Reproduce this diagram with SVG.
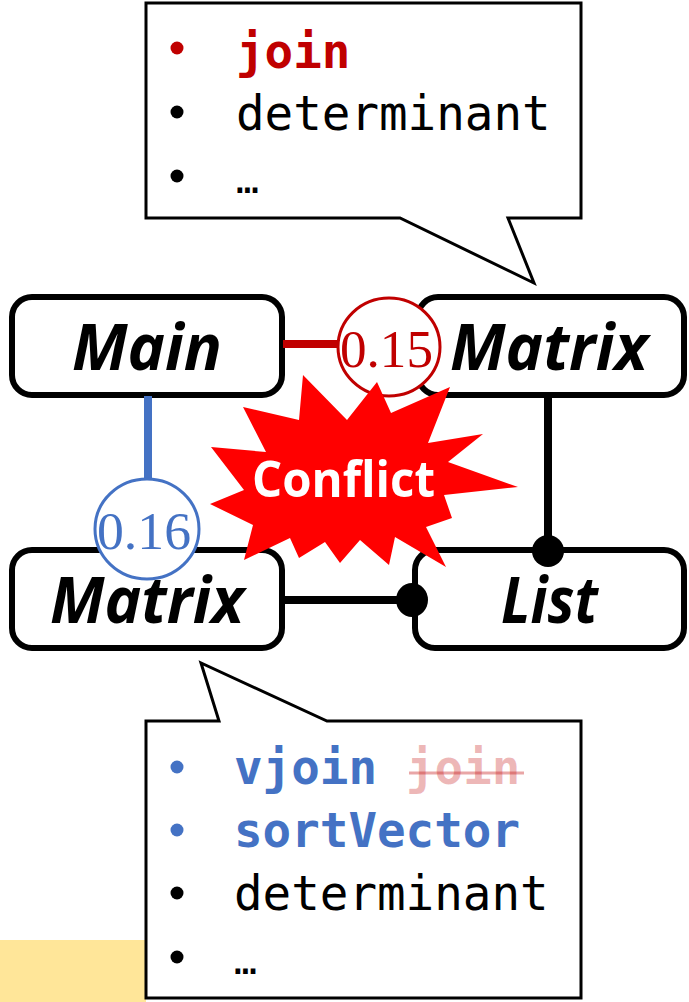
<svg xmlns="http://www.w3.org/2000/svg" width="689" height="1002" viewBox="0 0 689 1002">
  <style>
    .box { fill: #ffffff; stroke: #000000; stroke-width: 6; }
    .label { font-family: "Open Sans", "Liberation Sans", sans-serif; font-weight: 700; font-style: italic; font-size: 64px; fill: #000000; }
    .callout { fill: #ffffff; stroke: #000000; stroke-width: 3; stroke-linejoin: miter; }
    .code { font-family: "DejaVu Sans Mono", "Liberation Mono", monospace; font-size: 47.5px; fill: #000000; }
    .dots { font-size: 38px; }
    .bold { font-weight: 700; }
    .red { fill: #C00000; }
    .blue { fill: #4472C4; }
    .removed { fill: #C00000; fill-opacity: 0.28; }
    .weight { font-family: "Liberation Serif", "DejaVu Serif", serif; font-size: 52px; }
    .link { stroke-width: 8; fill: none; }
  </style>

  <!-- yellow highlight strip bottom-left -->
  <rect x="0" y="940" width="146" height="62" fill="#FFE699"/>

  <!-- callout above the upper Matrix class -->
  <g id="callout-top">
    <polygon class="callout" points="146,3 581,3 581,218 508,218 534,283 400,218 146,218"/>
    <circle cx="177" cy="48" r="6.5" fill="#C00000"/>
    <text class="code bold red" x="236" y="68">join</text>
    <circle cx="177" cy="112" r="6.5" fill="#000000"/>
    <text class="code" x="236" y="130">determinant</text>
    <circle cx="177" cy="176" r="6.5" fill="#000000"/>
    <text class="code dots" x="236" y="193">…</text>
  </g>

  <!-- callout below the lower Matrix class -->
  <g id="callout-bottom">
    <polygon class="callout" points="146,721 219,721 201,663 327,721 581,721 581,998 146,998"/>
    <circle cx="177" cy="767" r="6.5" fill="#4472C4"/>
    <text class="code bold blue" x="234" y="784">vjoin</text>
    <text class="code bold removed" x="406" y="784">join</text>
    <line x1="409" y1="773" x2="524" y2="773" stroke="#C00000" stroke-opacity="0.35" stroke-width="3"/>
    <circle cx="177" cy="830" r="6.5" fill="#4472C4"/>
    <text class="code bold blue" x="234" y="847">sortVector</text>
    <circle cx="177" cy="893" r="6.5" fill="#000000"/>
    <text class="code" x="234" y="910">determinant</text>
    <circle cx="177" cy="957" r="6.5" fill="#000000"/>
    <text class="code dots" x="234" y="974">…</text>
  </g>

  <!-- class nodes -->
  <g id="node-main">
    <rect class="box" x="12" y="297" width="270" height="98" rx="20"/>
    <text class="label" x="72" y="370" textLength="150" lengthAdjust="spacingAndGlyphs">Main</text>
  </g>
  <g id="node-matrix-top">
    <rect class="box" x="418" y="297" width="266" height="98" rx="20"/>
    <text class="label" x="450" y="370" textLength="198" lengthAdjust="spacingAndGlyphs">Matrix</text>
  </g>
  <g id="node-matrix-bottom">
    <rect class="box" x="12" y="550" width="270" height="98" rx="20"/>
    <text class="label" x="50" y="623" textLength="194" lengthAdjust="spacingAndGlyphs">Matrix</text>
  </g>
  <g id="node-list">
    <rect class="box" x="415" y="550" width="269" height="98" rx="20"/>
    <text class="label" x="501" y="623" textLength="97" lengthAdjust="spacingAndGlyphs">List</text>
  </g>

  <!-- dependencies and their weights -->
  <g id="connectors">
    <line class="link" x1="283" y1="344" x2="340" y2="344" stroke="#C00000"/>
    <line class="link" x1="148" y1="396" x2="148" y2="480" stroke="#4472C4"/>
    <line class="link" x1="548" y1="396" x2="548" y2="550" stroke="#000000"/>
    <ellipse cx="548" cy="551" rx="16" ry="16" fill="#000000"/>
    <line class="link" x1="283" y1="600" x2="412" y2="600" stroke="#000000"/>
    <ellipse cx="412" cy="600" rx="16" ry="17" fill="#000000"/>

    <ellipse cx="389" cy="347" rx="51" ry="49" fill="#ffffff" stroke="#C00000" stroke-width="3"/>
    <text class="weight" x="340" y="367" textLength="93" lengthAdjust="spacingAndGlyphs" fill="#C00000">0.15</text>

    <ellipse cx="147" cy="529" rx="52" ry="50" fill="#ffffff" stroke="#4472C4" stroke-width="3"/>
    <text class="weight" x="97" y="549" textLength="94" lengthAdjust="spacingAndGlyphs" fill="#4472C4">0.16</text>
  </g>

  <!-- conflict burst -->
  <g id="conflict">
    <polygon fill="#FF0000" points="243,407 299,420 303,375 347,420 377,382 391,413 450,387 428,443 483,434 448,462 518,487 444,495 452,518 426,527 446,567 395,537 389,565 360,540 340,563 325,542 299,558 290,538 244,560 253,525 210,504 244,490 211,447 266,452"/>
    <text x="252" y="497" textLength="183" lengthAdjust="spacingAndGlyphs" font-family="Open Sans, Liberation Sans, sans-serif" font-weight="700" font-size="51" fill="#ffffff">Conflict</text>
  </g>
</svg>
